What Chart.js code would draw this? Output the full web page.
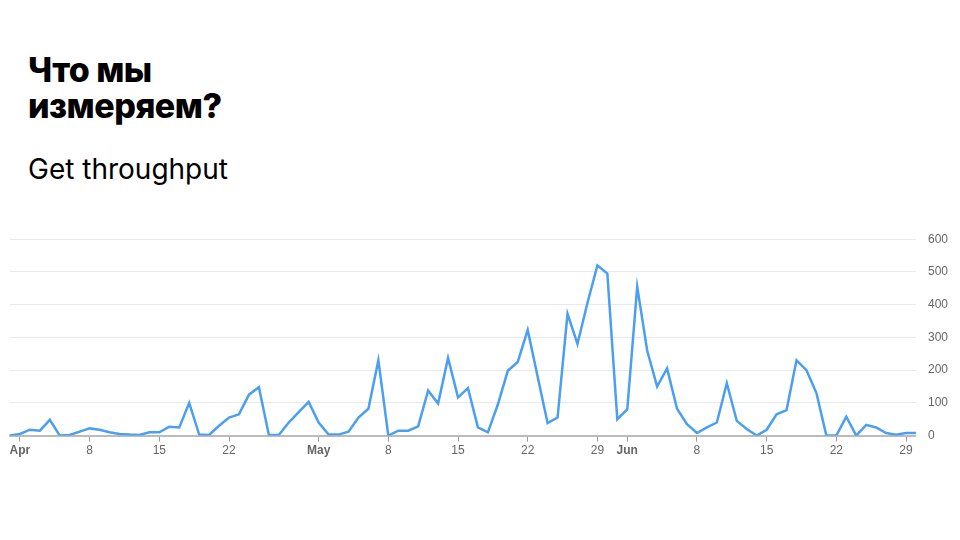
<!DOCTYPE html>
<html><head><meta charset="utf-8">
<script src="https://cdn.jsdelivr.net/npm/chart.js@4"></script>
<style>
body{margin:0;width:960px;height:540px;background:#fff;font-family:Inter,"Noto Sans",sans-serif;position:relative;overflow:hidden}
h1{position:absolute;left:28px;top:52px;margin:0;font-size:34px;line-height:36px;font-weight:800;color:#000;letter-spacing:-0.5px}
h2{position:absolute;left:28px;top:152px;margin:0;font-size:28px;font-weight:400;color:#000}
#w{position:absolute;left:8px;top:220px;width:952px;height:240px}
</style></head><body>
<h1>Что мы<br>измеряем?</h1>
<h2>Get throughput</h2>
<div id="w"><canvas id="c"></canvas></div>
<script>
const values=[0,5,18,15,48,0,2,12,22,18,10,5,3,2,10,10,27,25,100,3,2,30,55,65,125,148,2,2,40,72,103,40,3,3,12,55,82,230,0,15,15,28,138,98,237,117,145,25,10,95,198,225,323,180,38,55,372,280,405,520,495,50,80,455,260,150,205,82,35,8,25,40,160,45,20,0,18,65,78,230,200,130,0,0,58,0,33,25,8,3,8,8];
const tickLabels={1:"Apr",8:"8",15:"15",22:"22",31:"May",38:"8",45:"15",52:"22",59:"29",62:"Jun",69:"8",76:"15",83:"22",90:"29"};
const categories=values.map((v,i)=>{const d=new Date(2020,2,31+i);return d.toISOString().slice(0,10);});
const yTicks=[0,100,200,300,400,500,600];
const bold=new Set([1,31,62]);
new Chart(document.getElementById('c'),{type:'line',
data:{labels:categories,datasets:[{data:values,borderColor:'#4a9ff0',borderWidth:2.5,pointRadius:0,tension:0,fill:false}]},
options:{responsive:true,maintainAspectRatio:false,animation:false,
plugins:{legend:{display:false},tooltip:{enabled:false}},
layout:{padding:{left:0,right:0}},
scales:{
x:{type:'category',offset:false,
 grid:{drawOnChartArea:false,tickLength:6,tickColor:c=>tickLabels[c.index]!==undefined?'#999':'transparent'},
 border:{color:'#bbb',width:2},
 ticks:{autoSkip:false,maxRotation:0,color:'#666',padding:2,
  font:c=>({family:'Helvetica, Arial, "Liberation Sans"',size:12,weight:bold.has(c.index)?'bold':'normal'}),
  callback:(v,i)=>tickLabels[i]!==undefined?tickLabels[i]:''}},
y:{position:'right',min:0,max:600,
 afterBuildTicks:a=>{a.ticks=yTicks.map(v=>({value:v}));},
 grid:{color:'#e6e9f0',drawTicks:false},border:{display:false},
 ticks:{color:'#666',padding:12,font:{family:'Helvetica, Arial, "Liberation Sans"',size:12}}}
}}});
</script></body></html>
